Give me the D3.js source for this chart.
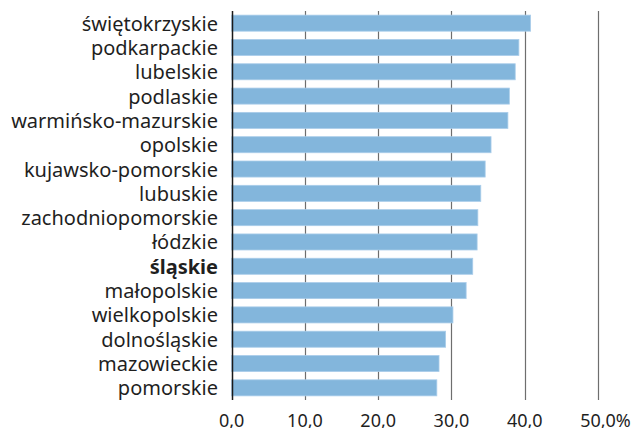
<!DOCTYPE html>
<html>
<head>
<meta charset="utf-8">
<script src="https://cdn.jsdelivr.net/npm/d3@7/dist/d3.min.js"></script>
<style>
  html, body { margin: 0; padding: 0; background: #fff; }
  svg { display: block; }
</style>
</head>
<body>
<svg id="chart" width="633" height="428"></svg>
<script>
const categories = [
  "świętokrzyskie", "podkarpackie", "lubelskie", "podlaskie", "warmińsko-mazurskie",
  "opolskie", "kujawsko-pomorskie", "lubuskie", "zachodniopomorskie", "łódzkie",
  "śląskie", "małopolskie", "wielkopolskie", "dolnośląskie", "mazowieckie", "pomorskie"
];
const values = [40.8, 39.2, 38.7, 37.9, 37.7, 35.4, 34.6, 34.0, 33.6, 33.5, 32.9, 32.0, 30.2, 29.2, 28.3, 28.0];
const highlighted = ["śląskie"];
const tickValues = [0, 10, 20, 30, 40, 50];
const tickLabels = ["0,0", "10,0", "20,0", "30,0", "40,0", "50,0"];

const svg = d3.select("#chart");
const fontFamily = "'Noto Sans', 'Open Sans', sans-serif";
const x0 = 231.7, x1 = 598, yTop = 11, yBot = 400;

const x = d3.scaleLinear().domain([0, 50]).range([x0, x1]);
const y = d3.scaleBand().domain(categories).range([yTop, yBot]).paddingInner(0.34).paddingOuter(0.17);

// gridlines
svg.append("g").selectAll("line").data(tickValues.slice(1)).join("line")
  .attr("x1", d => Math.round(x(d)) + 0.5).attr("x2", d => Math.round(x(d)) + 0.5)
  .attr("y1", yTop).attr("y2", yBot)
  .attr("stroke", "#6e6e6e").attr("stroke-width", 1.2);

// bars
svg.append("g").selectAll("rect").data(categories).join("rect")
  .attr("x", x(0))
  .attr("y", d => y(d))
  .attr("width", (d, i) => x(values[i]) - x(0))
  .attr("height", y.bandwidth())
  .attr("fill", "#83b6dc")
  .attr("stroke", "#aacdea")
  .attr("stroke-width", 0.8);

// baseline axis
svg.append("line")
  .attr("x1", Math.round(x0) + 0.5).attr("x2", Math.round(x0) + 0.5)
  .attr("y1", yTop).attr("y2", yBot)
  .attr("stroke", "#1a1a1a").attr("stroke-width", 1.5);

// y labels
svg.append("g").selectAll("text").data(categories).join("text")
  .attr("x", 218)
  .attr("y", d => y(d) + y.bandwidth() / 2 + 7.5)
  .attr("text-anchor", "end")
  .attr("font-family", fontFamily)
  .attr("font-size", 20)
  .attr("font-weight", d => highlighted.includes(d) ? "bold" : "normal")
  .attr("fill", "#1f1f1f")
  .text(d => d);

// x tick labels
const xl = svg.append("g");
tickValues.forEach((v, i) => {
  const t = xl.append("text")
    .attr("x", x(v)).attr("y", 427)
    .attr("text-anchor", "middle")
    .attr("font-family", fontFamily)
    .attr("font-size", 18)
    .attr("fill", "#1f1f1f")
    .text(tickLabels[i]);
  if (i === tickValues.length - 1) {
    const w = t.node().getComputedTextLength();
    t.attr("text-anchor", "start").attr("x", x(v) - w / 2).text(tickLabels[i] + "%");
  }
});
</script>
</body>
</html>
